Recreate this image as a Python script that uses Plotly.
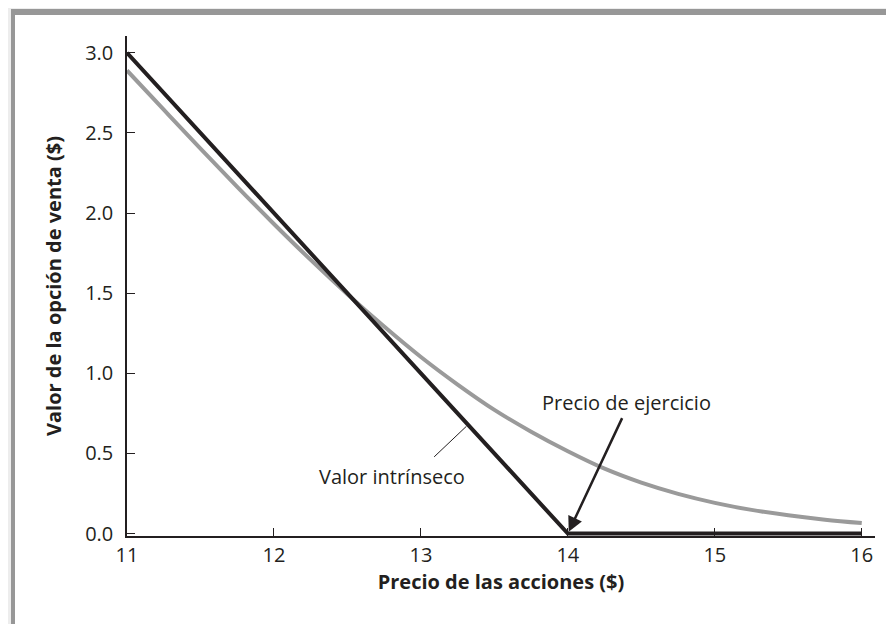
import plotly.graph_objects as go

# precio de la accion y valores
precio = [11, 11.25, 11.5, 11.75, 12, 12.25, 12.5, 12.75, 13, 13.25, 13.5,
          13.75, 14, 14.25, 14.5, 14.75, 15, 15.25, 15.5, 15.75, 16]
valor_opcion = [2.89, 2.645, 2.402, 2.164, 1.932, 1.708, 1.494, 1.292, 1.102,
                0.93, 0.772, 0.636, 0.514, 0.405, 0.318, 0.248, 0.192, 0.148,
                0.114, 0.087, 0.066]
precio_intr = [11, 14, 16]
valor_intr = [3.0, 0.0, 0.0]
ticks_x = [11, 12, 13, 14, 15, 16]
ticks_y = [0.0, 0.5, 1.0, 1.5, 2.0, 2.5, 3.0]

ink = "#231f20"
font = "Open Sans"

fig = go.Figure()
fig.add_trace(go.Scatter(
    x=precio, y=valor_opcion, mode="lines",
    line=dict(color="#9a9a9a", width=4, shape="spline", smoothing=1),
    showlegend=False, hoverinfo="skip"
))
fig.add_trace(go.Scatter(
    x=precio_intr, y=valor_intr, mode="lines",
    line=dict(color=ink, width=4),
    showlegend=False, hoverinfo="skip"
))

# the page body adds 8px, so the figure is 886x616
W, H = 886, 616
L, R, T, B = 119, 867, 28, 528
def px(p):
    return (p - L) / (R - L)
def py(p):
    return (B - p) / (B - T)

# marco gris
fig.add_shape(type="rect", xref="paper", yref="paper", layer="below",
              x0=px(3), x1=px(900), y0=py(1), y1=py(640),
              fillcolor="#979797", line_width=0)
fig.add_shape(type="rect", xref="paper", yref="paper", layer="below",
              x0=px(7), x1=px(900), y0=py(7), y1=py(640),
              fillcolor="white", line_width=0)

fig.add_annotation(x=14, y=0, ax=14.374, ay=0.73, xref="x", yref="y",
                   axref="x", ayref="y", text="", showarrow=True,
                   arrowhead=2, arrowsize=1.2, arrowwidth=2.5, arrowcolor=ink,
                   standoff=2)
fig.add_annotation(x=14.40, y=0.82, text="Precio de ejercicio", showarrow=False,
                   font=dict(family=font, size=20, color=ink))
fig.add_annotation(x=13.31, y=0.67, ax=13.08, ay=0.47, xref="x", yref="y",
                   axref="x", ayref="y", text="", showarrow=True,
                   arrowhead=0, arrowwidth=1, arrowcolor=ink)
fig.add_annotation(x=12.80, y=0.354, text="Valor intrínseco", showarrow=False,
                   font=dict(family=font, size=20, color=ink))

fig.update_layout(
    width=W, height=H,
    margin=dict(l=L, r=W - R, t=T, b=H - B),
    paper_bgcolor="#ededed", plot_bgcolor="white",
    font=dict(family=font, size=20, color=ink),
    xaxis=dict(
        range=[11, 16.09], tickvals=ticks_x, showgrid=False, zeroline=False,
        showline=True, linecolor=ink, linewidth=1.5,
        ticks="inside", ticklen=8, tickcolor=ink, tickwidth=1,
        ticklabelstandoff=0,
        title=dict(text="<b>Precio de las acciones ($)</b>", standoff=2,
                   font=dict(family=font, size=20, color=ink))
    ),
    yaxis=dict(
        range=[-0.015, 3.105], tickvals=ticks_y, tickformat=".1f",
        showgrid=False, zeroline=False,
        showline=True, linecolor=ink, linewidth=1.5,
        ticks="inside", ticklen=8, tickcolor=ink, tickwidth=1,
        ticklabelstandoff=8,
        title=dict(text="<b>Valor de la opción de venta ($)</b>", standoff=18,
                   font=dict(family=font, size=20, color=ink))
    ),
)

fig.write_html("out.html")
